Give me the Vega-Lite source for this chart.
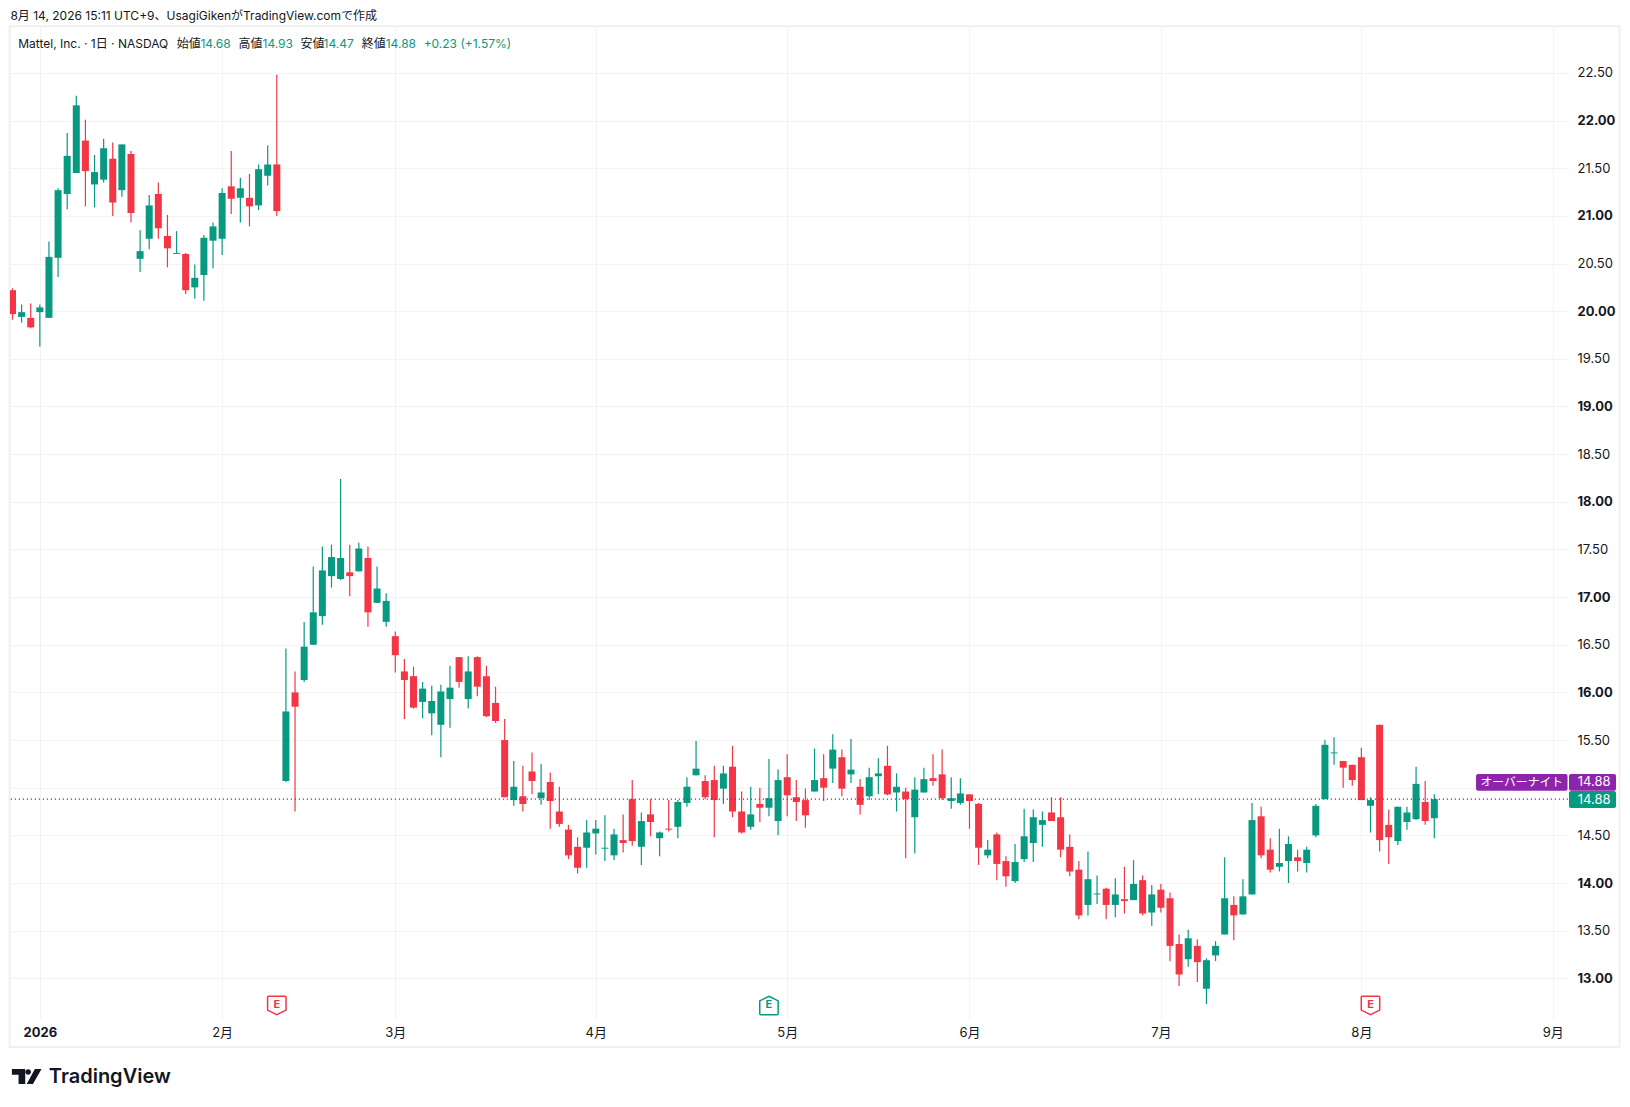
{
  "$schema": "https://vega.github.io/schema/vega-lite/v6.json",
  "width": 1558,
  "height": 992,
  "autosize": "none",
  "padding": {"left": 10, "right": 62, "top": 27, "bottom": 88},
  "background": "#ffffff",
  "config": {
    "view": {"stroke": null},
    "font": "Inter, 'Noto Sans CJK JP'",
    "axis": {"labelFont": "Inter, 'Noto Sans CJK JP'", "labelFontSize": 13, "labelColor": "#131722", "gridColor": "#f3f3f3", "gridWidth": 1, "domain": false, "ticks": false, "labelOverlap": false, "labelFlush": false, "labelBound": false}
  },
  "datasets": {
    "candles": [
      {"i":0,"o":20.22,"h":20.24,"l":19.91,"c":19.97,"dir":"down"},
      {"i":1,"o":19.94,"h":20.07,"l":19.88,"c":19.99,"dir":"up"},
      {"i":2,"o":19.93,"h":20.08,"l":19.82,"c":19.83,"dir":"down"},
      {"i":3,"o":19.99,"h":20.07,"l":19.63,"c":20.04,"dir":"up"},
      {"i":4,"o":19.93,"h":20.73,"l":19.93,"c":20.57,"dir":"up"},
      {"i":5,"o":20.56,"h":21.29,"l":20.36,"c":21.27,"dir":"up"},
      {"i":6,"o":21.23,"h":21.87,"l":21.07,"c":21.63,"dir":"up"},
      {"i":7,"o":21.45,"h":22.26,"l":21.45,"c":22.16,"dir":"up"},
      {"i":8,"o":21.79,"h":22.01,"l":21.10,"c":21.47,"dir":"down"},
      {"i":9,"o":21.33,"h":21.64,"l":21.09,"c":21.46,"dir":"up"},
      {"i":10,"o":21.38,"h":21.81,"l":21.35,"c":21.71,"dir":"up"},
      {"i":11,"o":21.60,"h":21.77,"l":21.00,"c":21.14,"dir":"down"},
      {"i":12,"o":21.27,"h":21.75,"l":21.20,"c":21.75,"dir":"up"},
      {"i":13,"o":21.65,"h":21.68,"l":20.93,"c":21.03,"dir":"down"},
      {"i":14,"o":20.55,"h":20.85,"l":20.41,"c":20.63,"dir":"up"},
      {"i":15,"o":20.76,"h":21.22,"l":20.65,"c":21.11,"dir":"up"},
      {"i":16,"o":21.23,"h":21.35,"l":20.76,"c":20.87,"dir":"down"},
      {"i":17,"o":20.79,"h":21.01,"l":20.46,"c":20.66,"dir":"down"},
      {"i":18,"o":20.60,"h":20.84,"l":20.60,"c":20.61,"dir":"up"},
      {"i":19,"o":20.60,"h":20.61,"l":20.18,"c":20.22,"dir":"down"},
      {"i":20,"o":20.25,"h":20.49,"l":20.13,"c":20.35,"dir":"up"},
      {"i":21,"o":20.38,"h":20.80,"l":20.11,"c":20.77,"dir":"up"},
      {"i":22,"o":20.74,"h":20.93,"l":20.45,"c":20.89,"dir":"up"},
      {"i":23,"o":20.76,"h":21.29,"l":20.59,"c":21.24,"dir":"up"},
      {"i":24,"o":21.31,"h":21.68,"l":21.02,"c":21.18,"dir":"down"},
      {"i":25,"o":21.19,"h":21.40,"l":20.93,"c":21.29,"dir":"up"},
      {"i":26,"o":21.19,"h":21.44,"l":20.89,"c":21.10,"dir":"down"},
      {"i":27,"o":21.11,"h":21.54,"l":21.06,"c":21.49,"dir":"up"},
      {"i":28,"o":21.42,"h":21.74,"l":21.32,"c":21.54,"dir":"up"},
      {"i":29,"o":21.54,"h":22.48,"l":21.00,"c":21.05,"dir":"down"},
      {"i":30,"o":15.07,"h":16.46,"l":15.06,"c":15.80,"dir":"up"},
      {"i":31,"o":16.00,"h":16.22,"l":14.75,"c":15.85,"dir":"down"},
      {"i":32,"o":16.13,"h":16.74,"l":16.11,"c":16.48,"dir":"up"},
      {"i":33,"o":16.50,"h":17.32,"l":16.50,"c":16.84,"dir":"up"},
      {"i":34,"o":16.80,"h":17.53,"l":16.71,"c":17.28,"dir":"up"},
      {"i":35,"o":17.22,"h":17.55,"l":17.10,"c":17.42,"dir":"up"},
      {"i":36,"o":17.19,"h":18.24,"l":17.18,"c":17.41,"dir":"up"},
      {"i":37,"o":17.26,"h":17.55,"l":17.01,"c":17.22,"dir":"down"},
      {"i":38,"o":17.27,"h":17.57,"l":17.27,"c":17.51,"dir":"up"},
      {"i":39,"o":17.41,"h":17.53,"l":16.69,"c":16.84,"dir":"down"},
      {"i":40,"o":16.94,"h":17.32,"l":16.94,"c":17.09,"dir":"up"},
      {"i":41,"o":16.74,"h":17.04,"l":16.69,"c":16.96,"dir":"up"},
      {"i":42,"o":16.59,"h":16.64,"l":16.21,"c":16.39,"dir":"down"},
      {"i":43,"o":16.22,"h":16.35,"l":15.72,"c":16.13,"dir":"down"},
      {"i":44,"o":16.17,"h":16.27,"l":15.83,"c":15.84,"dir":"down"},
      {"i":45,"o":15.90,"h":16.11,"l":15.73,"c":16.04,"dir":"up"},
      {"i":46,"o":15.78,"h":16.07,"l":15.55,"c":15.91,"dir":"up"},
      {"i":47,"o":15.66,"h":16.08,"l":15.32,"c":16.01,"dir":"up"},
      {"i":48,"o":15.93,"h":16.28,"l":15.63,"c":16.05,"dir":"up"},
      {"i":49,"o":16.37,"h":16.37,"l":16.05,"c":16.11,"dir":"down"},
      {"i":50,"o":15.93,"h":16.38,"l":15.83,"c":16.22,"dir":"up"},
      {"i":51,"o":16.37,"h":16.38,"l":15.96,"c":16.06,"dir":"down"},
      {"i":52,"o":16.17,"h":16.28,"l":15.74,"c":15.75,"dir":"down"},
      {"i":53,"o":15.89,"h":16.06,"l":15.68,"c":15.70,"dir":"down"},
      {"i":54,"o":15.50,"h":15.72,"l":14.90,"c":14.90,"dir":"down"},
      {"i":55,"o":14.87,"h":15.28,"l":14.81,"c":15.01,"dir":"up"},
      {"i":56,"o":14.91,"h":15.23,"l":14.75,"c":14.83,"dir":"down"},
      {"i":57,"o":15.17,"h":15.37,"l":14.93,"c":15.07,"dir":"down"},
      {"i":58,"o":14.89,"h":15.25,"l":14.82,"c":14.95,"dir":"up"},
      {"i":59,"o":15.06,"h":15.16,"l":14.57,"c":14.86,"dir":"down"},
      {"i":60,"o":14.75,"h":15.01,"l":14.59,"c":14.62,"dir":"down"},
      {"i":61,"o":14.56,"h":14.61,"l":14.25,"c":14.29,"dir":"down"},
      {"i":62,"o":14.38,"h":14.48,"l":14.10,"c":14.16,"dir":"down"},
      {"i":63,"o":14.37,"h":14.66,"l":14.16,"c":14.53,"dir":"up"},
      {"i":64,"o":14.52,"h":14.66,"l":14.30,"c":14.57,"dir":"up"},
      {"i":65,"o":14.36,"h":14.71,"l":14.23,"c":14.37,"dir":"up"},
      {"i":66,"o":14.29,"h":14.57,"l":14.24,"c":14.51,"dir":"up"},
      {"i":67,"o":14.45,"h":14.72,"l":14.32,"c":14.42,"dir":"down"},
      {"i":68,"o":14.88,"h":15.08,"l":14.39,"c":14.44,"dir":"down"},
      {"i":69,"o":14.38,"h":14.74,"l":14.19,"c":14.65,"dir":"up"},
      {"i":70,"o":14.72,"h":14.88,"l":14.49,"c":14.64,"dir":"down"},
      {"i":71,"o":14.47,"h":14.54,"l":14.28,"c":14.53,"dir":"up"},
      {"i":72,"o":14.57,"h":14.87,"l":14.54,"c":14.56,"dir":"down"},
      {"i":73,"o":14.59,"h":14.87,"l":14.47,"c":14.85,"dir":"up"},
      {"i":74,"o":14.84,"h":15.11,"l":14.80,"c":15.01,"dir":"up"},
      {"i":75,"o":15.13,"h":15.49,"l":15.13,"c":15.20,"dir":"up"},
      {"i":76,"o":15.07,"h":15.13,"l":14.88,"c":14.90,"dir":"down"},
      {"i":77,"o":15.08,"h":15.23,"l":14.48,"c":14.87,"dir":"down"},
      {"i":78,"o":14.99,"h":15.23,"l":14.83,"c":15.15,"dir":"up"},
      {"i":79,"o":15.22,"h":15.44,"l":14.69,"c":14.75,"dir":"down"},
      {"i":80,"o":14.75,"h":14.96,"l":14.52,"c":14.53,"dir":"down"},
      {"i":81,"o":14.59,"h":15.01,"l":14.56,"c":14.72,"dir":"up"},
      {"i":82,"o":14.83,"h":15.00,"l":14.64,"c":14.79,"dir":"down"},
      {"i":83,"o":14.79,"h":15.30,"l":14.70,"c":14.89,"dir":"up"},
      {"i":84,"o":14.65,"h":15.19,"l":14.50,"c":15.08,"dir":"up"},
      {"i":85,"o":15.11,"h":15.35,"l":14.70,"c":14.92,"dir":"down"},
      {"i":86,"o":14.90,"h":15.08,"l":14.65,"c":14.85,"dir":"down"},
      {"i":87,"o":14.87,"h":14.99,"l":14.58,"c":14.71,"dir":"down"},
      {"i":88,"o":14.96,"h":15.41,"l":14.96,"c":15.08,"dir":"up"},
      {"i":89,"o":15.10,"h":15.35,"l":14.86,"c":15.00,"dir":"down"},
      {"i":90,"o":15.20,"h":15.56,"l":15.05,"c":15.40,"dir":"up"},
      {"i":91,"o":15.32,"h":15.40,"l":14.91,"c":14.99,"dir":"down"},
      {"i":92,"o":15.14,"h":15.51,"l":15.05,"c":15.19,"dir":"up"},
      {"i":93,"o":15.01,"h":15.09,"l":14.72,"c":14.82,"dir":"down"},
      {"i":94,"o":14.91,"h":15.21,"l":14.87,"c":15.11,"dir":"up"},
      {"i":95,"o":15.12,"h":15.31,"l":14.93,"c":15.15,"dir":"up"},
      {"i":96,"o":15.23,"h":15.44,"l":14.92,"c":14.93,"dir":"down"},
      {"i":97,"o":14.95,"h":15.15,"l":14.75,"c":15.01,"dir":"up"},
      {"i":98,"o":14.96,"h":15.00,"l":14.26,"c":14.88,"dir":"down"},
      {"i":99,"o":14.69,"h":15.11,"l":14.31,"c":14.98,"dir":"up"},
      {"i":100,"o":14.95,"h":15.21,"l":14.95,"c":15.09,"dir":"up"},
      {"i":101,"o":15.10,"h":15.35,"l":15.02,"c":15.07,"dir":"down"},
      {"i":102,"o":15.14,"h":15.40,"l":14.87,"c":14.89,"dir":"down"},
      {"i":103,"o":14.86,"h":15.11,"l":14.78,"c":14.89,"dir":"up"},
      {"i":104,"o":14.84,"h":15.10,"l":14.82,"c":14.94,"dir":"up"},
      {"i":105,"o":14.93,"h":14.93,"l":14.57,"c":14.86,"dir":"down"},
      {"i":106,"o":14.83,"h":14.84,"l":14.19,"c":14.37,"dir":"down"},
      {"i":107,"o":14.29,"h":14.45,"l":14.26,"c":14.35,"dir":"up"},
      {"i":108,"o":14.51,"h":14.53,"l":14.03,"c":14.20,"dir":"down"},
      {"i":109,"o":14.23,"h":14.28,"l":13.96,"c":14.07,"dir":"down"},
      {"i":110,"o":14.02,"h":14.41,"l":14.00,"c":14.22,"dir":"up"},
      {"i":111,"o":14.25,"h":14.78,"l":14.22,"c":14.49,"dir":"up"},
      {"i":112,"o":14.42,"h":14.77,"l":14.22,"c":14.69,"dir":"up"},
      {"i":113,"o":14.61,"h":14.75,"l":14.38,"c":14.66,"dir":"up"},
      {"i":114,"o":14.74,"h":14.90,"l":14.65,"c":14.65,"dir":"down"},
      {"i":115,"o":14.69,"h":14.90,"l":14.27,"c":14.35,"dir":"down"},
      {"i":116,"o":14.38,"h":14.51,"l":14.07,"c":14.12,"dir":"down"},
      {"i":117,"o":14.14,"h":14.23,"l":13.62,"c":13.66,"dir":"down"},
      {"i":118,"o":13.77,"h":14.33,"l":13.66,"c":14.04,"dir":"up"},
      {"i":119,"o":13.88,"h":14.08,"l":13.78,"c":13.89,"dir":"up"},
      {"i":120,"o":13.94,"h":13.95,"l":13.62,"c":13.77,"dir":"down"},
      {"i":121,"o":13.77,"h":14.05,"l":13.64,"c":13.88,"dir":"up"},
      {"i":122,"o":13.83,"h":14.17,"l":13.68,"c":13.81,"dir":"down"},
      {"i":123,"o":13.82,"h":14.24,"l":13.82,"c":13.99,"dir":"up"},
      {"i":124,"o":14.03,"h":14.08,"l":13.66,"c":13.68,"dir":"down"},
      {"i":125,"o":13.69,"h":13.98,"l":13.55,"c":13.88,"dir":"up"},
      {"i":126,"o":13.93,"h":13.99,"l":13.69,"c":13.74,"dir":"down"},
      {"i":127,"o":13.84,"h":13.90,"l":13.18,"c":13.34,"dir":"down"},
      {"i":128,"o":13.36,"h":13.46,"l":12.92,"c":13.04,"dir":"down"},
      {"i":129,"o":13.20,"h":13.51,"l":13.12,"c":13.42,"dir":"up"},
      {"i":130,"o":13.34,"h":13.41,"l":12.96,"c":13.17,"dir":"down"},
      {"i":131,"o":12.89,"h":13.21,"l":12.73,"c":13.19,"dir":"up"},
      {"i":132,"o":13.24,"h":13.39,"l":13.18,"c":13.34,"dir":"up"},
      {"i":133,"o":13.46,"h":14.27,"l":13.46,"c":13.84,"dir":"up"},
      {"i":134,"o":13.77,"h":13.86,"l":13.40,"c":13.66,"dir":"down"},
      {"i":135,"o":13.67,"h":14.04,"l":13.67,"c":13.86,"dir":"up"},
      {"i":136,"o":13.88,"h":14.84,"l":13.88,"c":14.66,"dir":"up"},
      {"i":137,"o":14.70,"h":14.80,"l":14.26,"c":14.29,"dir":"down"},
      {"i":138,"o":14.35,"h":14.47,"l":14.11,"c":14.14,"dir":"down"},
      {"i":139,"o":14.17,"h":14.57,"l":14.12,"c":14.21,"dir":"up"},
      {"i":140,"o":14.23,"h":14.49,"l":14.00,"c":14.41,"dir":"up"},
      {"i":141,"o":14.27,"h":14.35,"l":14.12,"c":14.23,"dir":"down"},
      {"i":142,"o":14.21,"h":14.38,"l":14.11,"c":14.35,"dir":"up"},
      {"i":143,"o":14.50,"h":14.83,"l":14.48,"c":14.81,"dir":"up"},
      {"i":144,"o":14.88,"h":15.50,"l":14.88,"c":15.45,"dir":"up"},
      {"i":145,"o":15.36,"h":15.53,"l":15.24,"c":15.37,"dir":"up"},
      {"i":146,"o":15.28,"h":15.28,"l":15.00,"c":15.21,"dir":"down"},
      {"i":147,"o":15.24,"h":15.24,"l":15.02,"c":15.08,"dir":"down"},
      {"i":148,"o":15.32,"h":15.42,"l":14.87,"c":14.87,"dir":"down"},
      {"i":149,"o":14.81,"h":14.90,"l":14.53,"c":14.87,"dir":"up"},
      {"i":150,"o":15.66,"h":15.66,"l":14.33,"c":14.45,"dir":"down"},
      {"i":151,"o":14.61,"h":14.77,"l":14.20,"c":14.48,"dir":"down"},
      {"i":152,"o":14.44,"h":14.80,"l":14.40,"c":14.80,"dir":"up"},
      {"i":153,"o":14.64,"h":14.80,"l":14.56,"c":14.74,"dir":"up"},
      {"i":154,"o":14.67,"h":15.22,"l":14.66,"c":15.04,"dir":"up"},
      {"i":155,"o":14.85,"h":15.07,"l":14.61,"c":14.65,"dir":"down"},
      {"i":156,"o":14.68,"h":14.93,"l":14.47,"c":14.88,"dir":"up"}
    ],
    "earnings": [
      {"i":29,"price":12.715,"dir":"down"},
      {"i":83,"price":12.715,"dir":"up"},
      {"i":149,"price":12.715,"dir":"down"}
    ],
    "tags": [
      {"i":160.58,"i2":170.62,"top":15.144,"bottom":14.969,"dir":"overnight"},
      {"i":170.78,"i2":175.94,"top":15.144,"bottom":14.969,"dir":"overnight"},
      {"i":170.78,"i2":175.94,"top":14.965,"bottom":14.787,"dir":"up"}
    ],
    "tagtext": [
      {"i":165.6,"price":15.056,"label":"オーバーナイト","size":"small"},
      {"i":173.53,"price":15.056,"label":"14.88","size":"normal"},
      {"i":173.53,"price":14.874,"label":"14.88","size":"normal"}
    ],
    "header": [
      {"i":-0.23,"price":23.1,"label":"8月 14, 2026 15:11 UTC+9、UsagiGikenがTradingView.comで作成","dir":"ink"},
      {"i":0.63,"price":22.805,"label":"Mattel, Inc. · 1日 · NASDAQ","dir":"ink"},
      {"i":18.03,"price":22.805,"label":"始値","dir":"ink"},
      {"i":20.62,"price":22.805,"label":"14.68","dir":"up"},
      {"i":24.81,"price":22.805,"label":"高値","dir":"ink"},
      {"i":27.43,"price":22.805,"label":"14.93","dir":"up"},
      {"i":31.59,"price":22.805,"label":"安値","dir":"ink"},
      {"i":34.13,"price":22.805,"label":"14.47","dir":"up"},
      {"i":38.33,"price":22.805,"label":"終値","dir":"ink"},
      {"i":40.95,"price":22.805,"label":"14.88","dir":"up"},
      {"i":45.11,"price":22.805,"label":"+0.23 (+1.57%)","dir":"up"}
    ]
  },
  "layer": [
    {
      "data": {"name": "candles"},
      "mark": {"type": "rule", "strokeWidth": 1.2, "clip": true},
      "encoding": {
        "x": {
          "field": "i", "type": "quantitative",
          "scale": {"domain": [-0.274, 170.67], "nice": false, "zero": false, "padding": 0},
          "axis": {
            "title": null,
            "values": [3, 23, 42, 64, 85, 105, 126, 148, 169],
            "labelExpr": "['2026','2月','3月','4月','5月','6月','7月','8月','9月'][indexof([3,23,42,64,85,105,126,148,169],datum.value)]",
            "labelFontWeight": {"condition": {"test": "datum.value==3", "value": "bold"}, "value": "normal"},
            "labelPadding": 7
          }
        },
        "y": {
          "field": "l", "type": "quantitative",
          "scale": {"domain": [12.573, 22.982], "nice": false, "zero": false},
          "axis": {
            "title": null,
            "orient": "right",
            "values": [13, 13.5, 14, 14.5, 15, 15.5, 16, 16.5, 17, 17.5, 18, 18.5, 19, 19.5, 20, 20.5, 21, 21.5, 22, 22.5],
            "labelExpr": "datum.value==15?'':format(datum.value,'.2f')",
            "labelAlign": "left",
            "labelPadding": 9,
            "labelFontWeight": {"condition": {"test": "datum.value%1==0", "value": "bold"}, "value": "normal"}
          }
        },
        "y2": {"field": "h"},
        "color": {"field": "dir", "type": "nominal", "legend": null, "scale": {"domain": ["up", "down", "ink", "overnight"], "range": ["#089981", "#f23645", "#131722", "#8e24aa"]}}
      }
    },
    {
      "data": {"values": [{"i":-0.318,"i2":176.32,"top":22.99,"bottom":12.28}]},
      "mark": {"type": "rect", "fill": null, "stroke": "#f0f0f0", "strokeWidth": 2, "clip": false},
      "encoding": {
        "x": {"field": "i", "type": "quantitative"},
        "x2": {"field": "i2"},
        "y": {"field": "top", "type": "quantitative"},
        "y2": {"field": "bottom"}
      }
    },
    {
      "data": {"name": "candles"},
      "mark": {"type": "bar", "size": 7, "clip": true},
      "encoding": {
        "x": {"field": "i", "type": "quantitative"},
        "y": {"field": "o", "type": "quantitative"},
        "y2": {"field": "c"},
        "color": {"field": "dir", "type": "nominal", "legend": null, "scale": {"domain": ["up", "down", "ink", "overnight"], "range": ["#089981", "#f23645", "#131722", "#8e24aa"]}}
      }
    },
    {
      "data": {"values": [{"price": 14.88}]},
      "mark": {"type": "rule", "stroke": "#8e24aa", "strokeWidth": 1.4, "strokeDash": [1.2, 2.8]},
      "encoding": {"y": {"field": "price", "type": "quantitative"}}
    },
    {
      "data": {"name": "earnings"},
      "mark": {"type": "point", "filled": false, "fill": "#ffffff", "opacity": 1, "strokeWidth": 1.5, "size": 340},
      "encoding": {
        "x": {"field": "i", "type": "quantitative"},
        "y": {"field": "price", "type": "quantitative"},
        "color": {"field": "dir", "type": "nominal", "legend": null, "scale": {"domain": ["up", "down", "ink", "overnight"], "range": ["#089981", "#f23645", "#131722", "#8e24aa"]}},
        "shape": {"field": "dir", "type": "nominal", "legend": null, "scale": {"domain": ["up", "down"], "range": ["M0,-1 L1,-0.5 V0.9 Q1,1 0.9,1 H-0.9 Q-1,1 -1,0.9 V-0.5 Z", "M-0.9,-1 H0.9 Q1,-1 1,-0.9 V0.5 L0,1 L-1,0.5 V-0.9 Q-1,-1 -0.9,-1 Z"]}}
      }
    },
    {
      "data": {"name": "earnings"},
      "mark": {"type": "text", "text": "E", "fontSize": 11, "fontWeight": "bold", "baseline": "middle"},
      "encoding": {
        "x": {"field": "i", "type": "quantitative"},
        "y": {"field": "price", "type": "quantitative"},
        "color": {"field": "dir", "type": "nominal", "legend": null, "scale": {"domain": ["up", "down", "ink", "overnight"], "range": ["#089981", "#f23645", "#131722", "#8e24aa"]}}
      }
    },
    {
      "data": {"name": "tags"},
      "mark": {"type": "rect", "cornerRadius": 2, "clip": false},
      "encoding": {
        "x": {"field": "i", "type": "quantitative"},
        "x2": {"field": "i2"},
        "y": {"field": "top", "type": "quantitative"},
        "y2": {"field": "bottom"},
        "color": {"field": "dir", "type": "nominal", "legend": null, "scale": {"domain": ["up", "down", "ink", "overnight"], "range": ["#089981", "#f23645", "#131722", "#8e24aa"]}}
      }
    },
    {
      "data": {"name": "tagtext"},
      "mark": {"type": "text", "color": "#ffffff", "baseline": "middle", "align": "center"},
      "encoding": {
        "x": {"field": "i", "type": "quantitative"},
        "y": {"field": "price", "type": "quantitative"},
        "text": {"field": "label"},
        "size": {"field": "size", "type": "nominal", "legend": null, "scale": {"domain": ["small", "normal"], "range": [11.8, 13]}}
      }
    },
    {
      "data": {"name": "header"},
      "mark": {"type": "text", "fontSize": 12, "baseline": "middle", "align": "left"},
      "encoding": {
        "x": {"field": "i", "type": "quantitative"},
        "y": {"field": "price", "type": "quantitative"},
        "text": {"field": "label"},
        "color": {"field": "dir", "type": "nominal", "legend": null, "scale": {"domain": ["up", "down", "ink", "overnight"], "range": ["#089981", "#f23645", "#131722", "#8e24aa"]}}
      }
    },
    {
      "data": {"values": [{"i": 1.56, "price": 11.97}]},
      "mark": {"type": "point", "filled": true, "fill": "#131722", "opacity": 1, "size": 880, "shape": "M-1,-0.5 H-0.1 V0.5 H-0.55 V-0.12 H-1 Z M-0.09,-0.3 A0.19,0.19 0 1 1 0.29,-0.3 A0.19,0.19 0 1 1 -0.09,-0.3 Z M0.55,-0.5 H1 L0.42,0.5 H0 Z"},
      "encoding": {
        "x": {"field": "i", "type": "quantitative"},
        "y": {"field": "price", "type": "quantitative"}
      }
    },
    {
      "data": {"values": [{"i": 3.99, "price": 11.96, "label": "TradingView"}]},
      "mark": {"type": "text", "fontSize": 20, "fontWeight": 600, "color": "#131722", "baseline": "middle", "align": "left"},
      "encoding": {
        "x": {"field": "i", "type": "quantitative"},
        "y": {"field": "price", "type": "quantitative"},
        "text": {"field": "label"}
      }
    }
  ]
}
